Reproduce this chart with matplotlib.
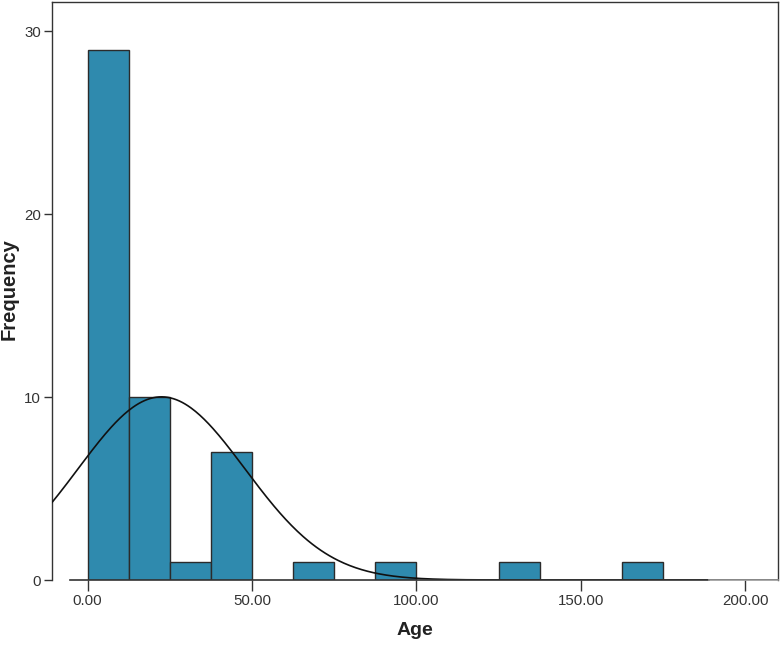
import numpy as np
import matplotlib.pyplot as plt

# histogram of Age (SPSS style), bin width 12.5
bin_left = [0.0, 12.5, 25.0, 37.5, 62.5, 87.5, 125.0, 162.5]
counts = [29, 10, 1, 7, 1, 1, 1, 1]
bin_width = 12.5

# normal curve fitted to the data
mean_age = 22.5
sd_age = 25.4
n_total = sum(counts)

x_ticks = [0, 50, 100, 150, 200]
x_labels = ["0.00", "50.00", "100.00", "150.00", "200.00"]
y_ticks = [0, 10, 20, 30]

plt.rcParams['font.family'] = ['Liberation Sans', 'DejaVu Sans']

fig = plt.figure(figsize=(7.8, 6.49), dpi=100)
ax = fig.add_axes([52 / 780, 1 - 580 / 649, 726 / 780, 578 / 649])

ax.bar(bin_left, counts, width=bin_width, align='edge',
       color='#2f8aae', edgecolor='#2b2b2b', linewidth=1.0, zorder=2)

xs = np.linspace(-11, 210, 500)
ys = n_total * bin_width / (sd_age * np.sqrt(2 * np.pi)) * np.exp(-0.5 * ((xs - mean_age) / sd_age) ** 2)
ax.plot(xs, ys, color='#111111', linewidth=1.2, zorder=3)

ax.set_xlim(-10.8, 210)
ax.set_ylim(0, 31.6)

# baseline like SPSS
ax.spines['bottom'].set_visible(False)
ax.plot([-5.3, 189], [0, 0], color='#333333', linewidth=1.2, zorder=4, clip_on=False)
ax.plot([189, 210], [0, 0], color='#999999', linewidth=1.2, zorder=4, clip_on=False)
for s in ['left', 'top', 'right']:
    ax.spines[s].set_color('#333333')
    ax.spines[s].set_linewidth(1.0)

ax.set_xticks(x_ticks)
ax.set_xticklabels(x_labels)
ax.set_yticks(y_ticks)
ax.tick_params(axis='x', direction='out', length=8, width=1, color='#333333',
               labelsize=10.8, labelcolor='#333333', pad=2)
ax.tick_params(axis='y', direction='out', length=6, width=1, color='#333333',
               labelsize=10.8, labelcolor='#333333', pad=2)

ax.set_xlabel("Age", fontsize=14, fontweight='bold', color='#222222')
ax.xaxis.set_label_coords(0.5, -42 / 578)
fig.text(9 / 780, 1 - 289 / 649, "Frequency", rotation=90, ha='center', va='center',
         fontsize=14.5, fontweight='bold', color='#222222')

fig.savefig("out.png", dpi=100)
